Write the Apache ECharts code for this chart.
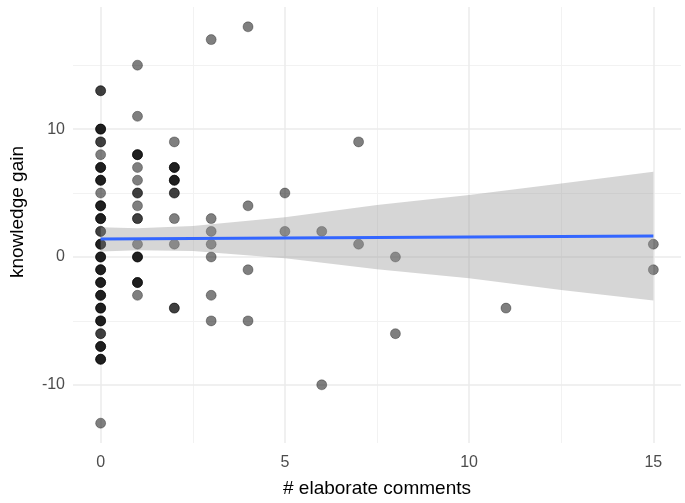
<!DOCTYPE html>
<html>
<head>
<meta charset="utf-8">
<script src="https://cdn.jsdelivr.net/npm/echarts@6/dist/echarts.min.js"></script>
<style>
html,body{margin:0;padding:0;background:#fff;}
#chart{width:685px;height:503px;}
</style>
</head>
<body>
<div id="chart"></div>
<script>
// Scatter points: # elaborate comments (x) vs knowledge gain (y); repeats produce darker dots
const pointX = [
  0,0, 0,0,0, 0,0, 0, 0,0,0, 0,0,0, 0, 0,0,0, 0,0,0, 0,0, 0,0,0, 0,0,0, 0,0,0, 0,0,0, 0,0,0, 0,0,0, 0,0,0, 0,0, 0,0,0, 0,0,0, 0,
  1, 1, 1,1,1, 1, 1, 1,1, 1, 1,1, 1, 1,1,1, 1,1,1, 1,
  2, 2,2,2, 2,2,2, 2,2, 2, 2, 2,2,
  3,3,3,3,3,3,3,
  4,4,4,4,
  5,5,
  6,6,
  7,7,
  8,8,
  11,
  15,15
];
const pointY = [
  13,13, 10,10,10, 9,9, 8, 7,7,7, 6,6,6, 5, 4,4,4, 3,3,3, 2,2, 1,1,1, 0,0,0, -1,-1,-1, -2,-2,-2, -3,-3,-3, -4,-4,-4, -5,-5,-5, -6,-6, -7,-7,-7, -8,-8,-8, -13,
  15, 11, 8,8,8, 7, 6, 5,5, 4, 3,3, 1, 0,0,0, -2,-2,-2, -3,
  9, 7,7,7, 6,6,6, 5,5, 3, 1, -4,-4,
  17,3,2,1,0,-3,-5,
  18,4,-1,-5,
  5,2,
  2,-10,
  9,1,
  0,-6,
  -4,
  1,-1
];

// Linear fit and its confidence band
const fitX = [0, 15];
const fitY = [1.41, 1.64];
const bandX = [0, 1, 2.5, 5, 7.5, 10, 12.5, 15];
const bandLower = [0.42, 0.53, 0.47, -0.1, -0.96, -1.67, -2.58, -3.41];
const bandUpper = [2.32, 2.25, 2.43, 3.1, 4.06, 4.84, 5.75, 6.67];

// Axes
const xTicks = [0, 5, 10, 15];
const xMinor = [2.5, 7.5, 12.5];
const yTicks = [-10, 0, 10];
const yMinor = [-5, 5, 15];
const xRange = [-0.75, 15.75];
const yRange = [-14.55, 19.55];
const xTitle = '# elaborate comments';
const yTitle = 'knowledge gain';

const FONT = '"Liberation Sans", Arial, Helvetica, sans-serif';

const scatterData = pointX.map((x, i) => [x, pointY[i]]);
const fitData = fitX.map((x, i) => [x, fitY[i]]);

const gridLines = []
  .concat(xMinor.map(v => ({xAxis: v, lineStyle: {color: '#f2f2f2', width: 1, type: 'solid'}})))
  .concat(yMinor.map(v => ({yAxis: v, lineStyle: {color: '#f2f2f2', width: 1, type: 'solid'}})))
  .concat(xTicks.map(v => ({xAxis: v, lineStyle: {color: '#ebebeb', width: 1.5, type: 'solid'}})))
  .concat(yTicks.map(v => ({yAxis: v, lineStyle: {color: '#ebebeb', width: 1.5, type: 'solid'}})));

const chart = echarts.init(document.getElementById('chart'), null, {renderer: 'canvas'});
chart.setOption({
  animation: false,
  backgroundColor: '#ffffff',
  grid: {left: 69, right: 4, top: 7, bottom: 60, containLabel: false},
  xAxis: {
    type: 'value', min: xRange[0], max: xRange[1],
    splitLine: {show: false}, axisLine: {show: false}, axisTick: {show: false, customValues: xTicks},
    axisLabel: {customValues: xTicks, color: '#4d4d4d', fontSize: 16, fontFamily: FONT, margin: 12},
    name: xTitle, nameLocation: 'middle', nameGap: 36,
    nameTextStyle: {color: '#000', fontSize: 19, fontFamily: FONT}
  },
  yAxis: {
    type: 'value', min: yRange[0], max: yRange[1],
    splitLine: {show: false}, axisLine: {show: false}, axisTick: {show: false, customValues: yTicks},
    axisLabel: {customValues: yTicks, color: '#4d4d4d', fontSize: 16, fontFamily: FONT, margin: 8},
    name: yTitle, nameLocation: 'middle', nameGap: 46, nameRotate: 90,
    nameTextStyle: {color: '#000', fontSize: 19, fontFamily: FONT, padding: [0, 0, 0, 26]}
  },
  series: [
    {
      type: 'line', data: [], z: 1, silent: true,
      markLine: {silent: true, symbol: 'none', z: 1, label: {show: false}, data: gridLines}
    },
    {
      type: 'scatter', data: scatterData, symbol: 'circle', symbolSize: 10, z: 2,
      itemStyle: {color: 'rgba(0,0,0,0.5)', borderColor: 'rgba(0,0,0,0.3)', borderWidth: 1, opacity: 1}
    },
    {
      type: 'custom', z: 3, silent: true,
      data: [[bandX[0], bandLower[0]]],
      encode: {x: 0, y: 1},
      renderItem: function (params, api) {
        if (params.dataIndex !== 0) return null;
        const pts = [];
        for (let i = 0; i < bandX.length; i++) pts.push(api.coord([bandX[i], bandUpper[i]]));
        for (let i = bandX.length - 1; i >= 0; i--) pts.push(api.coord([bandX[i], bandLower[i]]));
        return {type: 'polygon', shape: {points: pts}, style: {fill: 'rgba(153,153,153,0.4)', stroke: null}};
      }
    },
    {
      type: 'line', data: fitData, symbol: 'none', z: 4,
      lineStyle: {color: '#3366FF', width: 3}, silent: true
    }
  ]
});
</script>
</body>
</html>
